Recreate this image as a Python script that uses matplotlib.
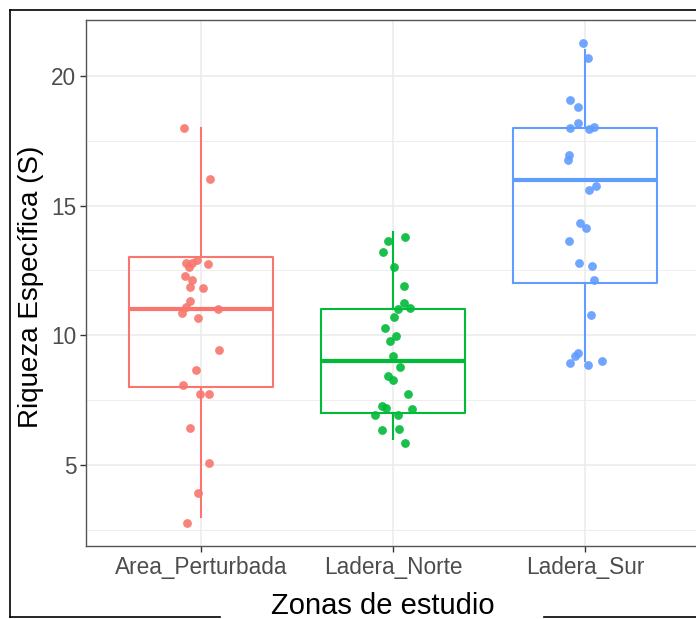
import numpy as np
import matplotlib.pyplot as plt
from matplotlib.lines import Line2D

plt.rcParams['font.family'] = ['Liberation Sans', 'DejaVu Sans']

# categories and colours (ggplot defaults)
zonas = ['Area_Perturbada', 'Ladera_Norte', 'Ladera_Sur']
colores = ['#F8766D', '#00BA38', '#619CFF']

# box statistics
whisker_lo = [3, 6, 9]
q1 = [8, 7, 12]
mediana = [11, 9, 16]
q3 = [13, 11, 18]
whisker_hi = [18, 14, 21]

# jittered points (value, horizontal jitter)
area_y = [18.01, 16.02, 12.78, 12.65, 12.78, 12.9, 12.74, 12.29, 12.12, 11.87, 11.84, 11.32, 11.1,
          11.02, 10.85, 10.67, 9.42, 8.65, 8.08, 7.72, 7.74, 6.42, 5.07, 3.91, 2.77]
area_dx = [-0.090, 0.045, -0.078, -0.064, -0.047, -0.022, 0.038, -0.082, -0.047, -0.059, 0.010, -0.056, -0.078,
           0.090, -0.099, -0.017, 0.092, -0.026, -0.094, -0.004, 0.042, -0.059, 0.043, -0.017, -0.073]

norte_y = [13.80, 13.62, 13.20, 12.63, 11.89, 11.25, 11.06, 11.03, 10.69, 10.26, 9.98, 9.79, 9.21,
           8.78, 8.44, 8.26, 7.72, 7.28, 7.21, 7.17, 6.91, 6.94, 6.36, 6.40, 5.83]
norte_dx = [0.064, -0.028, -0.052, 0.003, 0.059, 0.059, 0.086, 0.024, 0.003, -0.042, 0.017, -0.018, 0.0,
            0.038, -0.024, 0.002, 0.080, -0.056, -0.036, 0.097, -0.092, 0.028, -0.059, 0.033, 0.060]

sur_y = [21.27, 20.68, 19.09, 18.80, 18.20, 17.98, 17.94, 18.03, 16.97, 16.77, 15.75, 15.62, 14.32,
         14.13, 13.65, 12.78, 12.68, 12.13, 10.77, 9.33, 9.19, 8.94, 8.84, 9.01]
sur_dx = [-0.012, 0.017, -0.078, -0.036, -0.036, -0.076, 0.019, 0.045, -0.083, -0.088, 0.059, 0.024, -0.023,
          0.008, -0.085, -0.030, 0.036, 0.045, 0.033, -0.035, -0.054, -0.075, 0.014, 0.088]

puntos_y = [area_y, norte_y, sur_y]
puntos_dx = [area_dx, norte_dx, sur_dx]

W, H = 696, 619
fig = plt.figure(figsize=(W / 100, H / 100), dpi=100)
ax = fig.add_axes([86 / W, 1 - 546 / H, 614 / W, 526 / H])

# grid
ax.set_axisbelow(True)
ax.set_yticks([5, 10, 15, 20])
ax.set_yticks([2.5, 7.5, 12.5, 17.5], minor=True)
ax.grid(True, which='major', color='#EBEBEB', linewidth=1.1)
ax.grid(True, which='minor', axis='y', color='#EBEBEB', linewidth=0.6)

# boxes
for i, zona in enumerate(zonas):
    stats = [dict(med=mediana[i], q1=q1[i], q3=q3[i], whislo=whisker_lo[i],
                  whishi=whisker_hi[i], fliers=[])]
    c = colores[i]
    ax.bxp(stats, positions=[i + 1], widths=0.75, showcaps=False,
           boxprops=dict(color=c, linewidth=1.5),
           whiskerprops=dict(color=c, linewidth=1.5),
           medianprops=dict(color=c, linewidth=3.0, solid_capstyle='butt'),
           manage_ticks=False)

# jittered points
for i in range(len(zonas)):
    x = (i + 1) + np.array(puntos_dx[i])
    ax.scatter(x, puntos_y[i], s=40, color=colores[i], alpha=0.9, linewidths=0, zorder=3)

ax.set_xticks([1, 2, 3])
ax.set_xticklabels(zonas)
ax.set_xlim(0.4, 3.6)
ax.set_ylim(1.87, 22.16)

ax.tick_params(axis='both', which='major', labelsize=16.3, colors='#333333', labelcolor='#4D4D4D',
               length=4, width=1, pad=3)
ax.tick_params(axis='y', which='minor', length=0)
for sp in ax.spines.values():
    sp.set_color('#555555')
    sp.set_linewidth(1.0)

# y axis title
fig.text(31 / W, 1 - 287 / H, 'Riqueza Específica (S)', rotation=90, ha='center', va='center',
         fontsize=20, color='black')
# x axis title breaking the outer frame
fig.text(382.5 / W, 1 - 614 / H, 'Zonas de estudio', ha='center', va='baseline',
         fontsize=21, color='black')

# outer frame
frame_kw = dict(color='black', linewidth=1.2, transform=fig.transFigure)
fig.add_artist(Line2D([10 / W, 10 / W], [1 - 10 / H, 1 - 617 / H], **frame_kw))
fig.add_artist(Line2D([10 / W, 1.0], [1 - 10 / H, 1 - 10 / H], **frame_kw))
fig.add_artist(Line2D([10 / W, 220 / W], [1 - 617 / H, 1 - 617 / H], **frame_kw))
fig.add_artist(Line2D([544 / W, 1.0], [1 - 617 / H, 1 - 617 / H], **frame_kw))

fig.savefig('out.png', dpi=100)
